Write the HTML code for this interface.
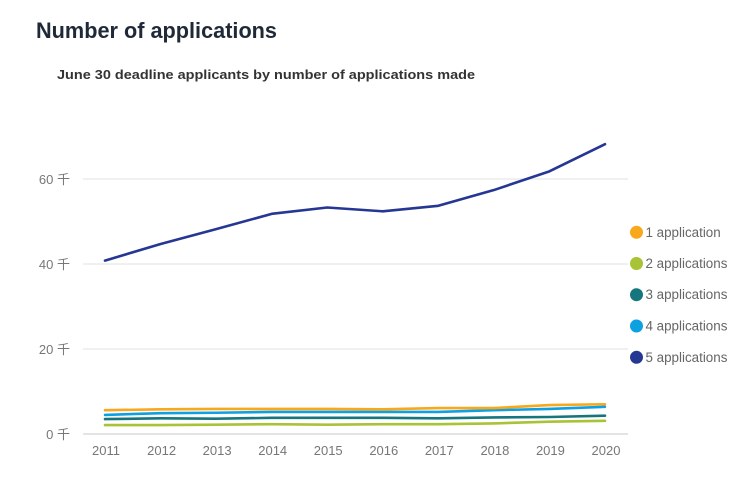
<!DOCTYPE html>
<html>
<head>
<meta charset="utf-8">
<style>
  html,body{margin:0;padding:0;background:#fff;}
  body{width:744px;height:502px;overflow:hidden;}
  svg{display:block;}
  text{font-family:"Liberation Sans","Noto Sans CJK SC",sans-serif;}
</style>
</head>
<body>
<svg width="744" height="502" viewBox="0 0 744 502" xmlns="http://www.w3.org/2000/svg">
  <rect width="744" height="502" fill="#fff"/>
  <text x="36" y="38" font-size="21.8" font-weight="bold" fill="#1f2937" textLength="241" lengthAdjust="spacingAndGlyphs">Number of applications</text>
  <text x="57" y="79" font-size="13" font-weight="bold" fill="#333" textLength="418" lengthAdjust="spacingAndGlyphs">June 30 deadline applicants  by number of applications made</text>

  <!-- gridlines -->
  <g stroke="#ebebeb" stroke-width="1.5">
    <line x1="83" y1="179" x2="628" y2="179"/>
    <line x1="83" y1="264" x2="628" y2="264"/>
    <line x1="83" y1="349" x2="628" y2="349"/>
    <line x1="83" y1="434" x2="628" y2="434" stroke="#e4e4e4" stroke-width="2"/>
  </g>

  <!-- y labels -->
  <g font-size="13" fill="#777" text-anchor="end">
    <text x="70" y="184">60 千</text>
    <text x="70" y="269">40 千</text>
    <text x="70" y="354">20 千</text>
    <text x="70" y="439">0 千</text>
  </g>

  <!-- x labels -->
  <g font-size="13" fill="#777" text-anchor="middle">
    <text x="106" y="455">2011</text>
    <text x="161.6" y="455">2012</text>
    <text x="217.1" y="455">2013</text>
    <text x="272.7" y="455">2014</text>
    <text x="328.2" y="455">2015</text>
    <text x="383.8" y="455">2016</text>
    <text x="439.3" y="455">2017</text>
    <text x="494.9" y="455">2018</text>
    <text x="550.4" y="455">2019</text>
    <text x="606" y="455">2020</text>
  </g>

  <g fill="none" stroke-width="2.6" stroke-linejoin="round" stroke-linecap="round">
    <polyline stroke="#253792" points="105,260.6 160.6,244.0 216.1,229.15 271.7,213.85 327.2,207.5 382.8,211.3 438.3,205.8 493.9,190.05 549.4,171.35 605,144.15"/>
    <polyline stroke="#a9c336" points="105,425.1 160.6,425.1 216.1,424.65 271.7,424.2 327.2,424.65 382.8,424.2 438.3,424.2 493.9,423.4 549.4,421.7 605,420.8"/>
    <polyline stroke="#17767d" points="105,419.1 160.6,418.3 216.1,418.7 271.7,417.85 327.2,417.85 382.8,417.85 438.3,418.3 493.9,417.4 549.4,417 605,415.7"/>
    <polyline stroke="#0ea1e2" points="105,414.9 160.6,413.2 216.1,412.75 271.7,411.9 327.2,411.9 382.8,411.9 438.3,411.9 493.9,410.2 549.4,408.9 605,406.8"/>
    <polyline stroke="#f7a81d" points="105,410.2 160.6,409.35 216.1,408.9 271.7,408.9 327.2,408.9 382.8,409.35 438.3,408.1 493.9,408.1 549.4,405.1 605,404.25"/>
  </g>

  <!-- legend -->
  <g font-size="13.4" fill="#666">
    <circle cx="636.5" cy="232.3" r="6.5" fill="#f7a81d"/>
    <text x="645.5" y="236.8">1 application</text>
    <circle cx="636.5" cy="263.5" r="6.5" fill="#a9c336"/>
    <text x="645.5" y="268">2 applications</text>
    <circle cx="636.5" cy="294.7" r="6.5" fill="#17767d"/>
    <text x="645.5" y="299.2">3 applications</text>
    <circle cx="636.5" cy="326" r="6.5" fill="#0ea1e2"/>
    <text x="645.5" y="330.5">4 applications</text>
    <circle cx="636.5" cy="357.3" r="6.5" fill="#253792"/>
    <text x="645.5" y="361.8">5 applications</text>
  </g>
</svg>
</body>
</html>
